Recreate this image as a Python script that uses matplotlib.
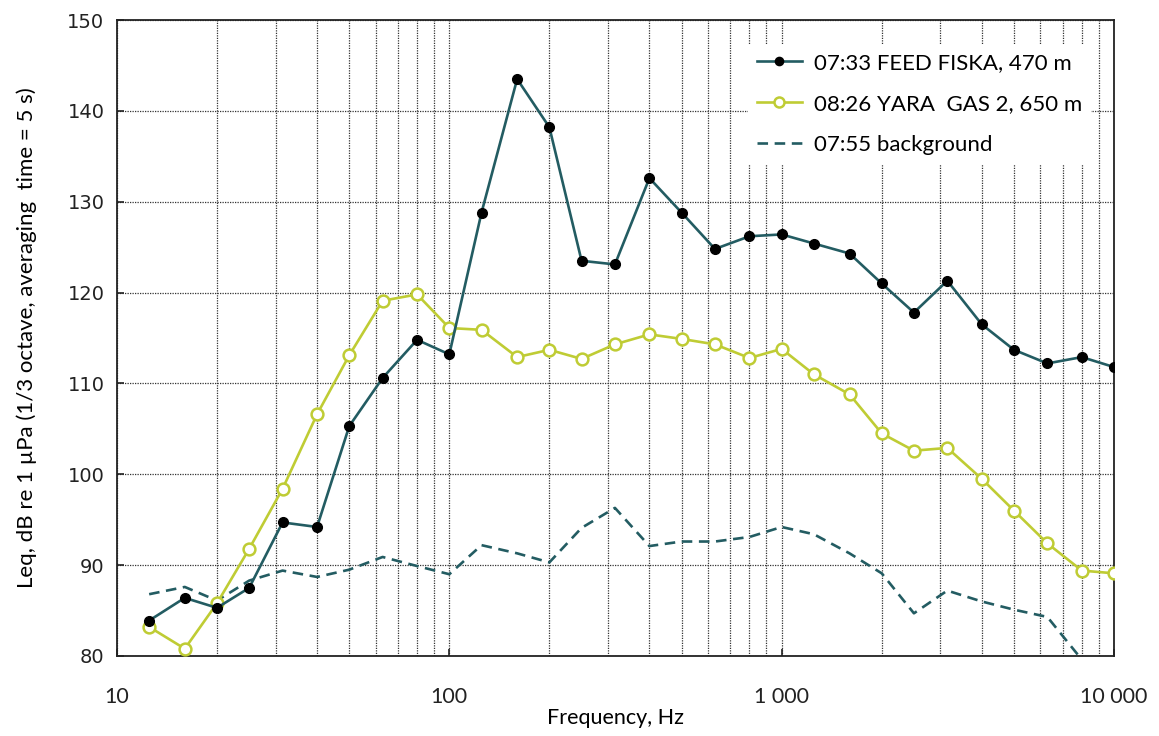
import matplotlib
matplotlib.use("Agg")
import matplotlib.pyplot as plt
from matplotlib.ticker import FixedLocator, NullFormatter, LogLocator

# 1/3 octave band centre frequencies, Hz
freq = [12.5, 16, 20, 25, 31.5, 40, 50, 63, 80, 100, 125, 160, 200, 250, 315,
        400, 500, 630, 800, 1000, 1250, 1600, 2000, 2500, 3150, 4000, 5000,
        6300, 8000, 10000]

# 07:33 FEED FISKA, 470 m
fiska = [83.9, 86.4, 85.3, 87.5, 94.7, 94.2, 105.3, 110.6, 114.8, 113.2,
         128.8, 143.5, 138.2, 123.5, 123.1, 132.6, 128.8, 124.8, 126.2, 126.4,
         125.4, 124.3, 121.0, 117.8, 121.3, 116.5, 113.7, 112.2, 112.9, 111.8]

# 08:26 YARA GAS 2, 650 m
yara = [83.2, 80.8, 85.8, 91.8, 98.4, 106.6, 113.1, 119.1, 119.8, 116.1,
        115.9, 112.9, 113.7, 112.7, 114.3, 115.4, 114.9, 114.3, 112.8, 113.8,
        111.0, 108.8, 104.5, 102.6, 102.9, 99.5, 96.0, 92.4, 89.4, 89.1]

# 07:55 background
background = [86.8, 87.6, 86.1, 88.3, 89.4, 88.7, 89.5, 90.9, 89.9, 89.0,
              92.2, 91.3, 90.3, 94.1, 96.3, 92.1, 92.6, 92.6, 93.1, 94.2,
              93.4, 91.3, 89.1, 84.7, 87.2, 86.0, 85.1, 84.3, 79.6, 79.0]

xticks = [10, 100, 1000, 10000]
xticklabels = ["10", "100", "1 000", "10 000"]
yticks = [80, 90, 100, 110, 120, 130, 140, 150]

teal = "#235c62"
lime = "#bfcc34"

fig = plt.figure(figsize=(11.59, 7.36), dpi=100)
ax = fig.add_axes([0.1009, 0.1087, 0.8603, 0.8641])

ax.plot(freq, fiska, color=teal, lw=1.9, marker="o", ms=7,
        mfc="black", mec="black", label="07:33 FEED FISKA, 470 m", zorder=4)
ax.plot(freq, yara, color=lime, lw=1.9, marker="o", ms=8.5,
        mfc="white", mec=lime, mew=1.8, label="08:26 YARA  GAS 2, 650 m", zorder=3)
ax.plot(freq, background, color=teal, lw=1.9, ls=(0, (4, 2.5)),
        label="07:55 background", zorder=2)

ax.set_xscale("log")
ax.set_xlim(10, 10000)
ax.set_ylim(80, 150)
ax.xaxis.set_major_locator(FixedLocator(xticks))
ax.set_xticklabels(xticklabels, fontfamily="Lato", fontsize=15.5)
ax.xaxis.set_minor_locator(LogLocator(base=10, subs=range(2, 10)))
ax.xaxis.set_minor_formatter(NullFormatter())
ax.set_yticks(yticks)
ax.set_yticklabels([str(v) for v in yticks], fontfamily="DejaVu Sans", fontsize=14)

ax.tick_params(axis="both", which="major", direction="in", length=5, width=1.2,
               pad=22, colors="#222222")
ax.tick_params(axis="y", which="major", pad=9)
ax.tick_params(axis="x", which="minor", direction="in", length=0)

ax.grid(True, which="both", axis="x", color="#333333", ls=(0, (1, 1)), lw=0.9)
ax.grid(True, which="major", axis="y", color="#333333", ls=(0, (1, 1)), lw=0.9)
ax.set_axisbelow(True)

for s in ax.spines.values():
    s.set_color("#222222")
    s.set_linewidth(1.3)

ax.set_xlabel("Frequency, Hz", fontfamily="Lato", fontsize=15.5, labelpad=1)
ax.set_ylabel("Leq, dB re 1 µPa (1/3 octave, averaging  time = 5 s)",
              fontfamily="Lato", fontsize=16, labelpad=22)

leg = ax.legend(loc="upper right", bbox_to_anchor=(0.988, 0.98),
                prop={"family": "Lato", "size": 16}, frameon=True,
                fancybox=False, edgecolor="none", facecolor="white",
                framealpha=1, handlelength=2.0, handletextpad=0.55,
                labelspacing=0.95, borderpad=0.4, markerscale=0.85)

fig.savefig("out.png", dpi=100)
